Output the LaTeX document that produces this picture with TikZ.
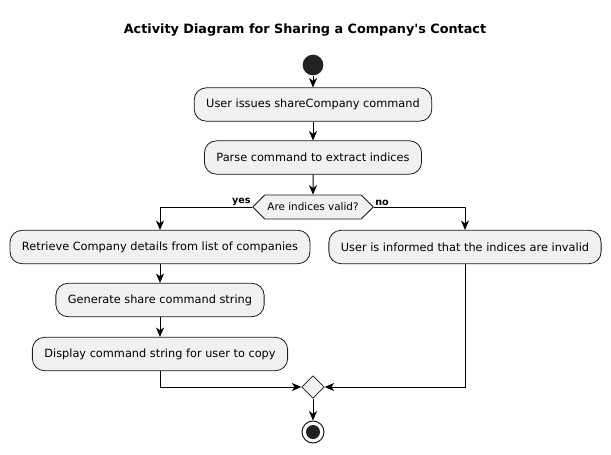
\documentclass[tikz,border=0pt]{standalone}
\usepackage{fontspec}
\setmainfont{DejaVu Sans}
\usetikzlibrary{shapes.geometric, shapes.symbols, arrows.meta}
\definecolor{boxfill}{HTML}{F1F1F1}
\definecolor{boxline}{HTML}{181818}
\definecolor{dotfill}{HTML}{222222}

\begin{document}
\begin{tikzpicture}[x=0.75pt, y=-0.75pt]
			\tikzstyle{act} = [rectangle, rounded corners=9pt, minimum height=25pt, inner xsep=9pt, text centered, draw=boxline, line width=0.6pt, fill=boxfill, font=\fontsize{8.5}{10}\selectfont]
			\tikzstyle{decide} = [signal, signal to=west and east, signal pointer angle=90, minimum height=18pt, inner xsep=2pt, draw=boxline, line width=0.6pt, fill=boxfill, font=\fontsize{7.8}{9}\selectfont]
			\tikzstyle{merger} = [diamond, minimum size=17pt, inner sep=0pt, draw=boxline, line width=0.6pt, fill=boxfill]
			\tikzstyle{guard} = [font=\bfseries\fontsize{7.2}{8}\selectfont, inner sep=1pt]
			\tikzstyle{arrow} = [line width=0.75pt, -{Stealth[length=7pt, width=6pt, inset=2pt]}]

			\useasboundingbox (0,0) rectangle (611,454);

			\node (title) at (305,30) [font=\bfseries\fontsize{9.6}{12}\selectfont] {Activity Diagram for Sharing a Company\textquotesingle s Contact};

			\node (start) at (313,65) [circle, fill=dotfill, minimum size=15.5pt, inner sep=0pt] {};
			\node (issue) at (313,104.5) [act] {User issues shareCompany command};
			\node (parse) at (313,157.5) [act] {Parse command to extract indices};
			\node (valid) at (313,207) [decide] {Are indices valid?};
			\node (retrieve) at (160,247) [act] {Retrieve Company details from list of companies};
			\node (informed) at (465,247) [act] {User is informed that the indices are invalid};
			\node (generate) at (160,300) [act] {Generate share command string};
			\node (display) at (160,354) [act] {Display command string for user to copy};
			\node (merge) at (313,387) [merger] {};
			\node (stop) at (313,432) [circle, draw=boxline, line width=0.75pt, minimum size=16.5pt, inner sep=0pt] {};
			\node (stopdot) at (313,432) [circle, fill=dotfill, minimum size=10.5pt, inner sep=0pt] {};

			\node (yes) at (valid.west) [guard, anchor=south east] {yes};
			\node (no) at (valid.east) [guard, anchor=south west] {no};

			\draw [arrow] (start) -- (issue);
			\draw [arrow] (issue) -- (parse);
			\draw [arrow] (parse) -- (valid);
			\draw [arrow] (valid.west) -| (retrieve.north);
			\draw [arrow] (valid.east) -| (informed.north);
			\draw [arrow] (retrieve) -- (generate);
			\draw [arrow] (generate) -- (display);
			\draw [arrow] (display.south) |- (merge.west);
			\draw [arrow] (informed.south) |- (merge.east);
			\draw [arrow] (merge) -- (stop);

		\end{tikzpicture}
\end{document}
